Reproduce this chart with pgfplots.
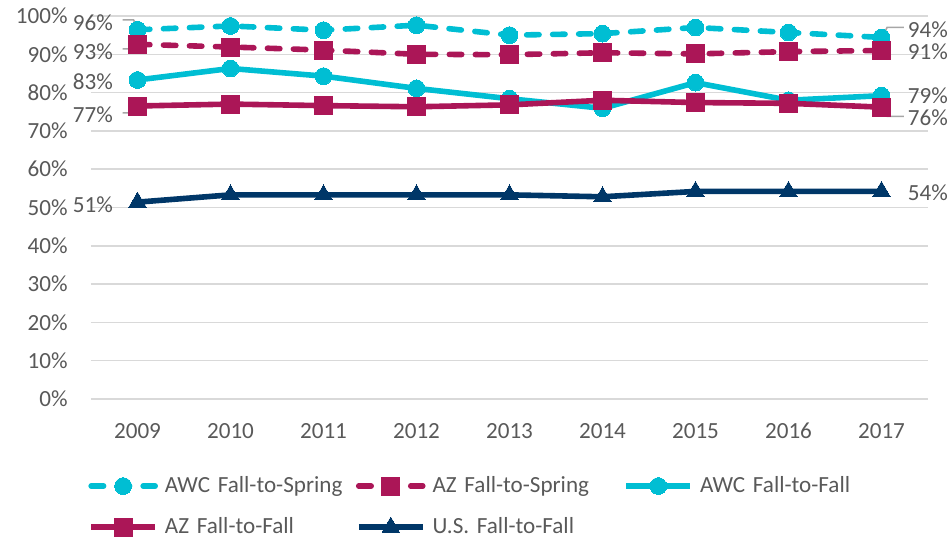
\documentclass[border=0pt]{standalone}
\usepackage{pgfplots}
\pgfplotsset{compat=1.18}
\usepackage{fontspec}
\setmainfont{Carlito}
\definecolor{awc}{HTML}{00BED3}
\definecolor{az}{HTML}{AB1657}
\definecolor{us}{HTML}{003768}
\definecolor{txt}{HTML}{595959}
\definecolor{grd}{HTML}{D9D9D9}
\definecolor{lead}{HTML}{A6A6A6}
\newcommand{\lfont}{\fontsize{11.6}{14}\selectfont}
\begin{document}
\begin{tikzpicture}
\useasboundingbox (-45.5bp,-71bp) rectangle (430bp,199.5bp);
\begin{axis}[
  at={(0,0)}, anchor=south west,
  scale only axis, width=418.5bp, height=191.5bp,
  xmin=-0.5, xmax=8.5, ymin=0, ymax=100,
  clip=false,
  axis line style={draw=none},
  major tick length=0pt,
  xtick={0,1,2,3,4,5,6,7,8},
  xticklabels={2009,2010,2011,2012,2013,2014,2015,2016,2017},
  ytick={0,10,20,30,40,50,60,70,80,90,100},
  yticklabels={0\%,10\%,20\%,30\%,40\%,50\%,60\%,70\%,80\%,90\%,100\%},
  ymajorgrids, grid style={grd, line width=0.75bp},
  tick label style={font=\lfont, text=txt, inner sep=0pt},
  xticklabel style={anchor=base, yshift=-19.5bp},
  yticklabel style={anchor=east, xshift=-11.5bp},
  legend columns=3,
  legend cell align=left,
  legend style={draw=none, fill=none, font=\lfont, text=txt,
    at={(-0.0036,-0.191)}, anchor=north west,
    inner sep=0pt,
    /tikz/every odd column/.append style={column sep=1.5bp},
    /tikz/every even column/.append style={text width=93.5bp},
    row sep=7bp},
  legend image code/.code={\draw[mark repeat=2,mark phase=2] plot coordinates {(0bp,0bp) (16bp,0bp) (32bp,0bp)};},
  every axis plot/.append style={line width=2.8bp, line join=round},
]
% AWC Fall-to-Spring
\addplot[awc, line cap=round, dash pattern=on 6.2bp off 6.8bp, mark=*, mark size=4.2bp, mark options={solid, line width=0pt, fill=awc}]
  coordinates {(0,96.4) (1,97.4) (2,96.3) (3,97.6) (4,95.0) (5,95.4) (6,97.0) (7,95.7) (8,94.4)};
\addlegendentry{AWC Fall-to-Spring}
% AZ Fall-to-Spring
\addplot[az, line cap=round, dash pattern=on 6.2bp off 6.8bp, mark=square*, mark size=4.5bp, mark options={solid, line width=0pt, fill=az}]
  coordinates {(0,92.6) (1,91.9) (2,91.1) (3,90.0) (4,89.9) (5,90.4) (6,90.1) (7,90.7) (8,91.0)};
\addlegendentry{AZ Fall-to-Spring}
% AWC Fall-to-Fall
\addplot[awc, mark=*, mark size=4.2bp, mark options={solid, line width=0pt, fill=awc}]
  coordinates {(0,83.3) (1,86.3) (2,84.3) (3,81.1) (4,78.4) (5,75.9) (6,82.6) (7,78.0) (8,79.2)};
\addlegendentry{AWC Fall-to-Fall}
% AZ Fall-to-Fall
\addplot[az, mark=square*, mark size=4.5bp, mark options={solid, line width=0pt, fill=az}]
  coordinates {(0,76.5) (1,77.0) (2,76.6) (3,76.3) (4,76.8) (5,78.0) (6,77.4) (7,77.2) (8,76.2)};
\addlegendentry{AZ Fall-to-Fall}
% U.S. Fall-to-Fall
\addplot[us, mark=triangle*, mark size=5bp, mark options={solid, line width=0pt, fill=us}]
  coordinates {(0,51.4) (1,53.3) (2,53.3) (3,53.3) (4,53.3) (5,52.8) (6,54.2) (7,54.2) (8,54.2)};
\addlegendentry{U.S. Fall-to-Fall}
% leader lines
\draw[lead, line width=0.75bp] (axis cs:-0.161,99.0) -- (axis cs:-0.043,99.0) -- (axis cs:0,96.9);
\draw[lead, line width=0.75bp] (axis cs:-0.161,91.4) -- (axis cs:-0.043,91.4) -- (axis cs:0,93.2);
\draw[lead, line width=0.75bp] (axis cs:-0.161,74.7) -- (axis cs:-0.043,74.7) -- (axis cs:0,76.5);
\draw[lead, line width=0.75bp] (axis cs:8.24,97.0) -- (axis cs:8.06,97.0) -- (axis cs:8.01,94.6);
\draw[lead, line width=0.75bp] (axis cs:8.24,73.8) -- (axis cs:8.06,73.8) -- (axis cs:8.01,76.2);
% data labels
\begin{scope}[every node/.style={font=\lfont, text=txt, inner sep=0pt}]
\node[anchor=east] at (axis cs:-0.26,98.2) {96\%};
\node[anchor=east] at (axis cs:-0.26,90.6) {93\%};
\node[anchor=east] at (axis cs:-0.26,82.8) {83\%};
\node[anchor=east] at (axis cs:-0.26,74.2) {77\%};
\node[anchor=east] at (axis cs:-0.26,50.7) {51\%};
\node[anchor=west] at (axis cs:8.28,96.3) {94\%};
\node[anchor=west] at (axis cs:8.28,90.6) {91\%};
\node[anchor=west] at (axis cs:8.28,79.3) {79\%};
\node[anchor=west] at (axis cs:8.28,73.5) {76\%};
\node[anchor=west] at (axis cs:8.28,53.8) {54\%};
\end{scope}
\end{axis}
\end{tikzpicture}
\end{document}
